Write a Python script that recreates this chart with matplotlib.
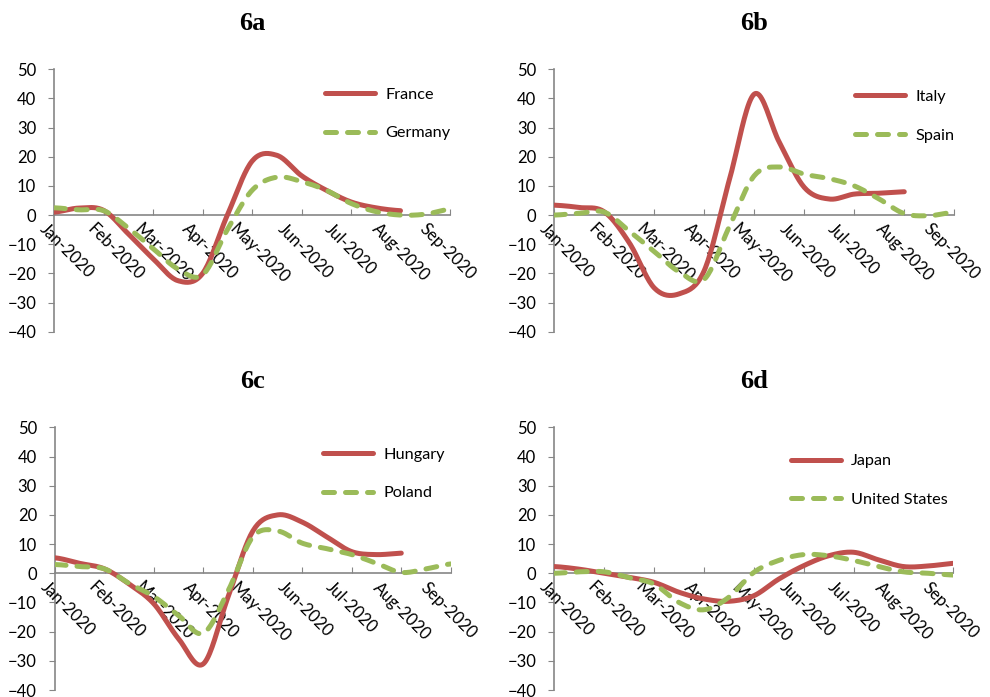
import numpy as np
import matplotlib.pyplot as plt
from matplotlib.transforms import ScaledTranslation

# month labels on the x axis
months = ['Jan-2020', 'Feb-2020', 'Mar-2020', 'Apr-2020', 'May-2020',
          'Jun-2020', 'Jul-2020', 'Aug-2020', 'Sep-2020']

# values every half month, starting Jan-2020
france = [1.0, 2.4, 1.6, -6.5, -15, -22.5, -20, 0, 18.5, 20.5, 13.5, 8.5, 4.5, 2.5, 1.5]
germany = [2.5, 1.8, 1.5, -4.5, -11.5, -18.5, -20.5, -5, 8.5, 13, 11.5, 8.5, 4, 1.2, 0, 0.3, 2]
italy = [3.4, 2.6, 1.1, -9.5, -25, -27, -19, 12, 41.5, 25, 9.5, 5.5, 7.2, 7.5, 8]
spain = [0, 0.6, 1, -5.5, -12.5, -19.5, -22, -4, 13.5, 16.5, 14, 12.5, 10, 5.5, 0.5, -0.2, 1]
hungary = [5.3, 3.4, 1.5, -3.7, -10.5, -22.5, -31, -8, 14.5, 20, 17.5, 12.4, 7.4, 6.4, 6.9]
poland = [3, 2.3, 1.5, -3.5, -8, -14.5, -20.5, -6, 12.5, 14.5, 10.3, 8.4, 6.4, 3.4, 0.3, 1.5, 3.2]
japan = [2.3, 1.4, 0, -1.4, -3.1, -6.5, -8.8, -9.6, -7.7, -2, 2.6, 6, 7.2, 4.6, 2.3, 2.5, 3.4]
usa = [0, 0.5, 0.5, -1.5, -3.7, -10, -12.5, -8.2, 0.3, 4.4, 6.4, 6, 4.4, 2.3, 0.5, 0, -0.6]

RED = '#C0504D'
GREEN = '#9BBB59'
AXIS = '#868686'

plt.rcParams['font.family'] = ['Lato', 'DejaVu Sans']


# Catmull-Rom smoothing, the way the spreadsheet draws "smoothed lines"
def smooth(vals, n=20):
    y = np.asarray(vals, float)
    t = np.arange(len(y)) * 0.5
    p = np.concatenate([[y[0]], y, [y[-1]]])
    xs, ys = [], []
    s = np.linspace(0, 1, n, endpoint=False)
    for i in range(len(y) - 1):
        p0, p1, p2, p3 = p[i], p[i + 1], p[i + 2], p[i + 3]
        ys.append(0.5 * (2 * p1 + (p2 - p0) * s + (2 * p0 - 5 * p1 + 4 * p2 - p3) * s ** 2
                         + (3 * p1 - p0 - 3 * p2 + p3) * s ** 3))
        xs.append(t[i] + 0.5 * s)
    xs.append([t[-1]])
    ys.append([y[-1]])
    return np.concatenate(xs), np.concatenate(ys)


def draw_panel(rect, title, name1, vals1, name2, vals2, leg_xy):
    ax = fig.add_axes(rect)
    x1, y1 = smooth(vals1)
    x2, y2 = smooth(vals2)
    ax.plot(x1, y1, color=RED, lw=3.6, solid_capstyle='round', label=name1)
    ax.plot(x2, y2, color=GREEN, lw=3.6, dashes=(2.2, 2.2), dash_capstyle='round', label=name2)
    ax.set_xlim(0, 8)
    ax.set_ylim(-40, 50)
    for side in ['top', 'right']:
        ax.spines[side].set_visible(False)
    ax.spines['bottom'].set_position(('data', 0))
    ax.spines['left'].set_position(('data', 0))
    for side in ['bottom', 'left']:
        ax.spines[side].set_color(AXIS)
        ax.spines[side].set_linewidth(1.2)
        ax.spines[side].set_zorder(1)
    ax.set_yticks(range(-40, 51, 10))
    ax.tick_params(axis='y', direction='out', length=4, color=AXIS, labelsize=12, pad=9)
    ax.set_xticks(range(9))
    ax.set_xticklabels(months, rotation=-45, ha='left', va='top', rotation_mode='anchor')
    ax.tick_params(axis='x', direction='in', length=4, color=AXIS, labelsize=12, pad=0)
    # the labels drift a little left of their ticks, as in the original
    for i, lab in enumerate(ax.get_xticklabels()):
        off = ScaledTranslation(-(6 + 2 * i) / 100, -6 / 100, fig.dpi_scale_trans)
        lab.set_transform(lab.get_transform() + off)
    ax.text(0.5, 1.175, title, transform=ax.transAxes, ha='center', va='center',
            fontsize=19, fontweight='bold', family='Liberation Serif')
    ax.legend(loc='center left', bbox_to_anchor=leg_xy, frameon=False, fontsize=11.7,
              handlelength=3.1, handletextpad=0.6, labelspacing=1.5,
              borderpad=0, borderaxespad=0)
    return ax


fig = plt.figure(figsize=(9.9, 6.97), dpi=100)

draw_panel([0.0548, 0.5241, 0.3997, 0.3765], '6a', 'France', france, 'Germany', germany, (0.684, 0.830))
draw_panel([0.5599, 0.5241, 0.4040, 0.3765], '6b', 'Italy', italy, 'Spain', spain, (0.752, 0.822))
draw_panel([0.0556, 0.0100, 0.3997, 0.3769], '6c', 'Hungary', hungary, 'Poland', poland, (0.677, 0.823))
draw_panel([0.5599, 0.0100, 0.4030, 0.3769], '6d', 'Japan', japan, 'United States', usa, (0.593, 0.798))

fig.savefig('out.png', dpi=100)
